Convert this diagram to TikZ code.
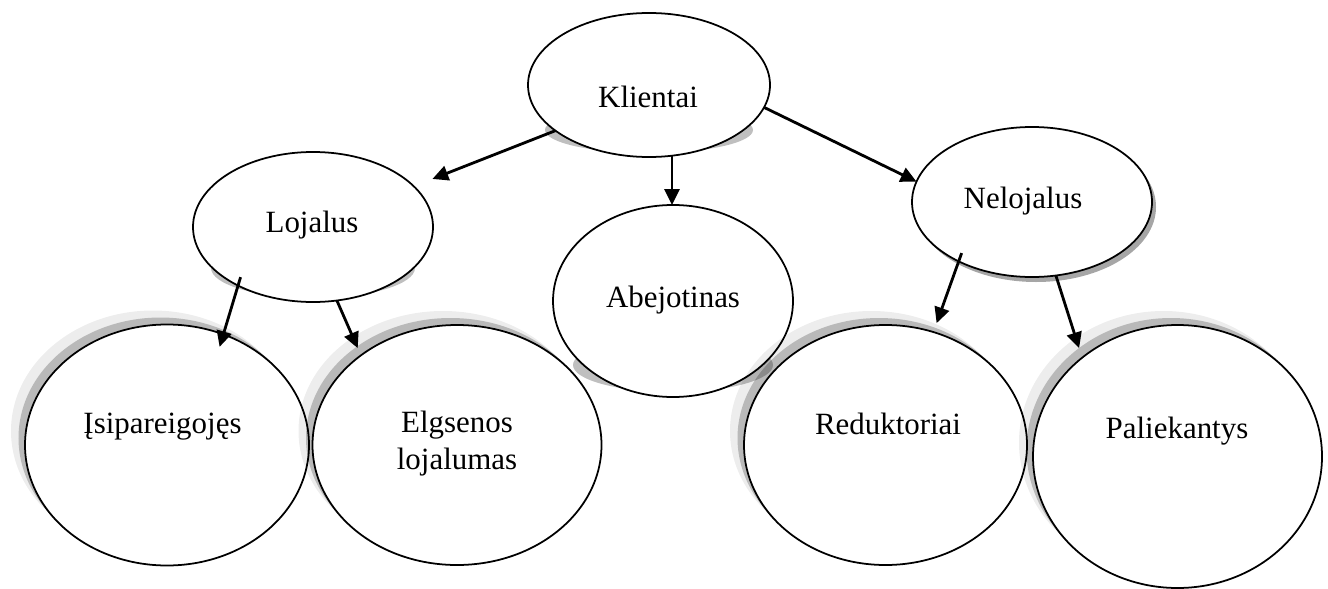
\documentclass[tikz,border=0pt]{standalone}
\usepackage{fontspec}
\setmainfont{Liberation Serif}
\usetikzlibrary{shapes.geometric,arrows.meta,shadows}

\begin{document}
\begin{tikzpicture}[
  oval/.style={ellipse, draw, fill=white, line width=1pt, inner sep=0pt, outer sep=0pt},
  lbl/.style={inner sep=0pt, font=\fontsize{17.6}{21}\selectfont},
  arr/.style={-{Triangle[length=9pt,width=8.5pt]}, line width=1.6pt},
  flatshade/.style={fill=gray!50},
  softshade/.style={drop shadow={shadow xshift=-.28cm, shadow yshift=.28cm, fill=black, opacity=.07},
                    drop shadow={shadow xshift=-.13cm, shadow yshift=.14cm, fill=black, opacity=.22}}]
\useasboundingbox (0,0) rectangle (26.56,-11.78);
% top row
\fill[flatshade] (12.98,-2.60) ellipse (2.08 and .46);
\node[oval, minimum width=4.84cm, minimum height=2.88cm] (klientai) at (12.98,-1.70) {};
\node[lbl, anchor=base] (klientai-t) at (12.96,-2.16) {Klientai};
\fill[flatshade] (6.26,-5.36) ellipse (2.04 and .60);
\node[oval, minimum width=4.80cm, minimum height=3.00cm] (lojalus) at (6.26,-4.54) {};
\node[lbl, anchor=base] (lojalus-t) at (6.24,-4.64) {Lojalus};
\fill[flatshade] (13.46,-7.30) ellipse (2.00 and .54);
\node[oval, minimum width=4.80cm, minimum height=3.84cm] (abejo) at (13.46,-6.02) {};
\node[lbl, anchor=base] (abejo-t) at (13.46,-6.14) {Abejotinas};
\node[oval, minimum width=4.80cm, minimum height=3.00cm,
      drop shadow={shadow xshift=.08cm, shadow yshift=-.10cm, fill=gray!70, opacity=1}] (nelojalus) at (20.64,-4.04) {};
\node[lbl, anchor=base] (nelojalus-t) at (20.46,-4.16) {Nelojalus};
% bottom row
\node[oval, softshade, minimum width=5.68cm, minimum height=4.82cm] (isip) at (3.34,-8.90) {};
\node[lbl, anchor=base] (isip-t) at (3.25,-8.66) {Įsipareigojęs};
\node[oval, softshade, minimum width=5.78cm, minimum height=4.80cm] (elgsenos) at (9.14,-8.90) {};
\node[lbl, align=center] (elgsenos-t) at (9.14,-8.88) {Elgsenos\\lojalumas};
\node[oval, softshade, minimum width=5.66cm, minimum height=4.80cm] (redukt) at (17.71,-8.90) {};
\node[lbl, anchor=base] (redukt-t) at (17.76,-8.68) {Reduktoriai};
\node[oval, softshade, minimum width=5.78cm, minimum height=5.26cm] (palie) at (23.55,-9.13) {};
\node[lbl, anchor=base] (palie-t) at (23.54,-8.76) {Paliekantys};
% arrows
\draw[arr, shorten >=11.4pt] (klientai.206) -- (lojalus.22);
\draw[arr] (klientai.-72) -- (klientai.-72 |- abejo.north);
\draw[arr] (klientai.-11) -- (nelojalus.170);
\draw[arr, shorten <=-5pt, shorten >=-7.4pt] (lojalus.218) -- (isip.63);
\draw[arr, shorten >=4.5pt] (lojalus.-72) -- (elgsenos.137);
\draw[arr, shorten <=-5pt, shorten >=5.4pt] (nelojalus.219) -- (redukt.67);
\draw[arr, shorten >=5.7pt] (nelojalus.-72) -- (palie.134);
\end{tikzpicture}
\end{document}
